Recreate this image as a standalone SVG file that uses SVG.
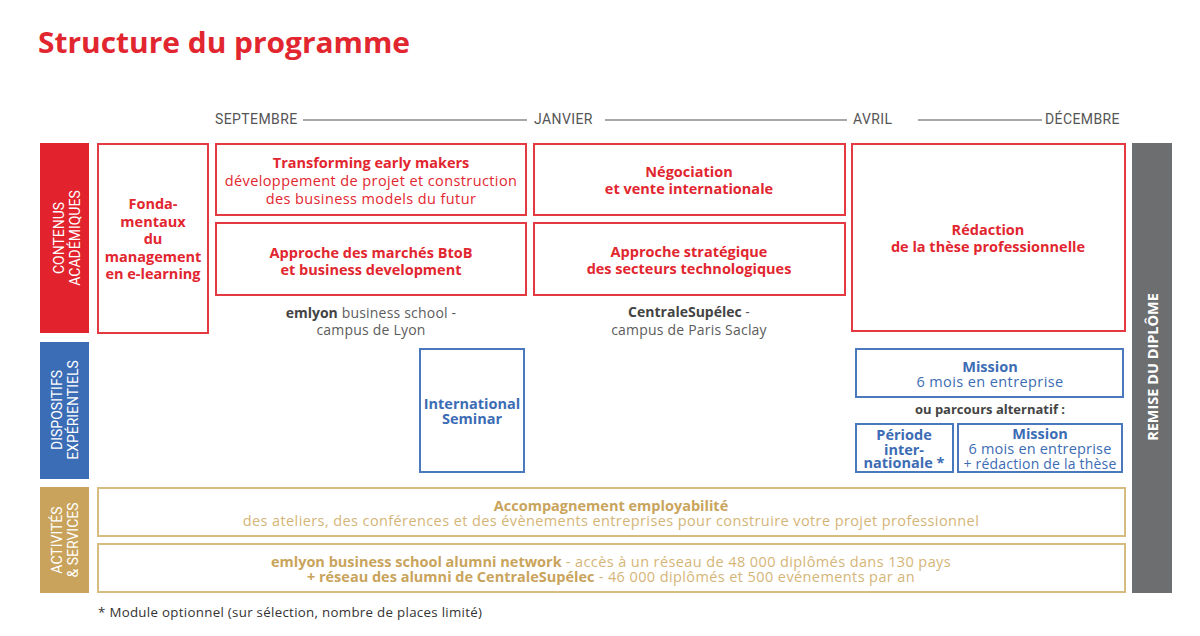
<svg xmlns="http://www.w3.org/2000/svg" width="1200" height="636" viewBox="0 0 1200 636">
<style>
text{font-family:"Open Sans","Noto Sans",sans-serif;text-anchor:middle;dominant-baseline:central}
.t{font-size:14.5px;letter-spacing:0.4px}
.b{font-weight:700;letter-spacing:0}
.red{fill:#e2262f}
.blue{fill:#3c6cb4}
.gold{fill:#c9a45c}
.gl{fill:#d5b577}
.dk{fill:#444}
.gr{fill:#5c5c5c}
.rb{fill:#fff;stroke:#e23a40;stroke-width:2}
.bb{fill:#fff;stroke:#4a78bd;stroke-width:2}
.ob{fill:#fff;stroke:#d7bc80;stroke-width:2}
.side{font-family:Roboto,"Liberation Sans",sans-serif;font-size:14px;fill:#fff}
.mo{font-family:Roboto,"Liberation Sans",sans-serif;font-size:14px;letter-spacing:0.4px;fill:#555;text-anchor:start}
.tl{stroke:#8a8a8a;stroke-width:1.6}
</style>
<rect width="1200" height="636" fill="#fff"/>
<text x="38" y="42" class="b red" style="font-size:28px;text-anchor:start" textLength="372" lengthAdjust="spacingAndGlyphs">Structure du programme</text>

<g id="timeline">
<text x="215" y="119" class="mo">SEPTEMBRE</text>
<text x="534" y="119" class="mo">JANVIER</text>
<text x="853" y="119" class="mo">AVRIL</text>
<text x="1045" y="119" class="mo">DÉCEMBRE</text>
</g>
<g id="connectors">
<line x1="303" y1="120" x2="527" y2="120" class="tl"/>
<line x1="605" y1="120" x2="847" y2="120" class="tl"/>
<line x1="918" y1="120" x2="1042" y2="120" class="tl"/>
</g>

<g id="cat-academique">
<rect x="40" y="143" width="49" height="190" fill="#e2232d"/>
<g transform="translate(67,238) rotate(-90)">
<text x="0" y="-8" class="side">CONTENUS</text>
<text x="0" y="8" class="side">ACADÉMIQUES</text>
</g>
</g>
<g id="cat-dispositifs">
<rect x="40" y="342" width="49" height="137" fill="#3b6cb6"/>
<g transform="translate(65,410) rotate(-90)">
<text x="0" y="-8" class="side">DISPOSITIFS</text>
<text x="0" y="8" class="side">EXPÉRIENTIELS</text>
</g>
</g>
<g id="cat-activites">
<rect x="40" y="487" width="49" height="106" fill="#c9a35b"/>
<g transform="translate(65,540) rotate(-90)">
<text x="0" y="-8" class="side">ACTIVITÉS</text>
<text x="0" y="8" class="side">&amp; SERVICES</text>
</g>
</g>
<g id="remise">
<rect x="1132" y="143" width="40" height="450" fill="#6d6e70"/>
<g transform="translate(1152,367) rotate(-90)">
<text x="0" y="0" class="t b" style="fill:#fff">REMISE DU DIPLÔME</text>
</g>
</g>

<g id="fondamentaux">
<rect x="98" y="144" width="110" height="189" class="rb"/>
<text x="153" y="203" class="t b red">Fonda-</text>
<text x="153" y="221" class="t b red">mentaux</text>
<text x="153" y="238" class="t b red">du</text>
<text x="153" y="256" class="t b red">management</text>
<text x="153" y="273" class="t b red">en e-learning</text>
</g>
<g id="transforming">
<rect x="216" y="144" width="310" height="71" class="rb"/>
<text x="371" y="162" class="t b red">Transforming early makers</text>
<text x="371" y="180" class="t red">développement de projet et construction</text>
<text x="371" y="198" class="t red">des business models du futur</text>
</g>
<g id="btob">
<rect x="216" y="223" width="310" height="72" class="rb"/>
<text x="371" y="252" class="t b red">Approche des marchés BtoB</text>
<text x="371" y="269" class="t b red">et business development</text>
</g>
<g id="emlyon">
<text x="371" y="312" class="t gr" style="font-size:14px;letter-spacing:0.2px"><tspan class="b dk">emlyon</tspan> business school -</text>
<text x="371" y="329" class="t gr" style="font-size:14px;letter-spacing:0.2px">campus de Lyon</text>
</g>
<g id="negociation">
<rect x="534" y="144" width="311" height="71" class="rb"/>
<text x="689" y="171" class="t b red">Négociation</text>
<text x="689" y="188" class="t b red">et vente internationale</text>
</g>
<g id="strategique">
<rect x="534" y="223" width="311" height="72" class="rb"/>
<text x="689" y="251" class="t b red">Approche stratégique</text>
<text x="689" y="268" class="t b red">des secteurs technologiques</text>
</g>
<g id="centrale">
<text x="689" y="311" class="t b dk" style="font-size:14px">CentraleSupélec <tspan class="gr" style="font-weight:400">-</tspan></text>
<text x="689" y="329" class="t gr" style="font-size:14px;letter-spacing:0.2px">campus de Paris Saclay</text>
</g>
<g id="redaction">
<rect x="852" y="144" width="273" height="187" class="rb"/>
<text x="988" y="229" class="t b red">Rédaction</text>
<text x="988" y="246" class="t b red">de la thèse professionnelle</text>
</g>

<g id="seminar">
<rect x="420" y="349" width="104" height="123" class="bb"/>
<text x="472" y="403" class="t b blue">International</text>
<text x="472" y="418" class="t b blue">Seminar</text>
</g>
<g id="mission">
<rect x="856" y="349" width="267" height="48" class="bb"/>
<text x="990" y="366" class="t b blue">Mission</text>
<text x="990" y="381" class="t blue">6 mois en entreprise</text>
</g>
<text x="990" y="409" class="t b dk" style="font-size:13px">ou parcours alternatif :</text>
<g id="periode">
<rect x="856" y="424" width="97" height="48" class="bb"/>
<text x="904" y="434" class="t b blue">Période</text>
<text x="904" y="449" class="t b blue">inter-</text>
<text x="904" y="462" class="t b blue">nationale *</text>
</g>
<g id="mission2">
<rect x="958" y="424" width="164" height="48" class="bb"/>
<text x="1040" y="433" class="t b blue">Mission</text>
<text x="1040" y="448" class="t blue" style="letter-spacing:0.2px">6 mois en entreprise</text>
<text x="1040" y="463" class="t blue" style="font-size:14px;letter-spacing:0.2px">+ rédaction de la thèse</text>
</g>

<g id="accompagnement">
<rect x="98" y="488" width="1027" height="48" class="ob"/>
<text x="611" y="505" class="t b gold">Accompagnement employabilité</text>
<text x="611" y="520" class="t gl">des ateliers, des conférences et des évènements entreprises pour construire votre projet professionnel</text>
</g>
<g id="alumni">
<rect x="98" y="544" width="1027" height="48" class="ob"/>
<text x="611" y="561" class="t gl"><tspan class="b gold">emlyon business school alumni network</tspan> - accès à un réseau de 48 000 diplômés dans 130 pays</text>
<text x="611" y="576" class="t gl"><tspan class="b gold">+ réseau des alumni de CentraleSupélec</tspan> - 46 000 diplômés et 500 evénements par an</text>
</g>
<text x="98" y="612" style="font-size:13.3px;letter-spacing:0.3px;text-anchor:start;fill:#333">* Module optionnel (sur sélection, nombre de places limité)</text>
</svg>
